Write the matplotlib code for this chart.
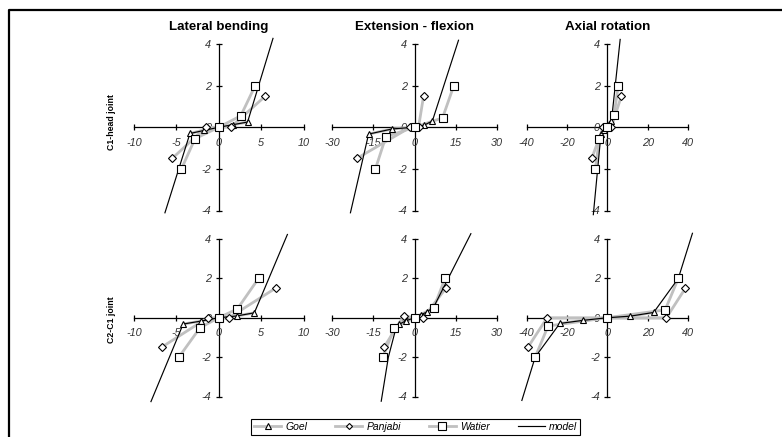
import matplotlib
matplotlib.use('Agg')
import matplotlib.pyplot as plt
from matplotlib.lines import Line2D

plt.rcParams['font.family'] = ['Liberation Sans', 'DejaVu Sans']
plt.rcParams['axes.unicode_minus'] = False

W, H = 782, 437

titles = ['Lateral bending', 'Extension - flexion', 'Axial rotation']
row_labels = ['C1-head joint', 'C2-C1 joint']
series_names = ['Goel', 'Panjabi', 'Watier', 'model']
x_ranges = [10, 30, 40]
x_ticks = [[-10, -5, 0, 5, 10], [-30, -15, 0, 15, 30], [-40, -20, 0, 20, 40]]
y_ticks = [-4, -2, 0, 2, 4]

# panel order: C1-head (lat, ext, axial), C2-C1 (lat, ext, axial)
goel_x = [[-3.4, -1.7, 0, 1.7, 3.4], [-16.7, -8.1, 0, 3.5, 6.5], [-3.1, -1.5, 0, 1.0, 2.1],
          [-4.2, -2.1, 0, 2.1, 4.2], [-5.6, -3.2, 0, 2.3, 4.6], [-23.5, -11.8, 0, 11.3, 23]]
goel_y = [[-0.3, -0.13, 0, 0.12, 0.25], [-0.33, -0.08, 0, 0.1, 0.3], [-0.32, -0.15, 0, 0.15, 0.32],
          [-0.32, -0.17, 0, 0.09, 0.25], [-0.33, -0.16, 0, 0.12, 0.29], [-0.29, -0.13, 0, 0.08, 0.27]]
panjabi_x = [[-5.5, -1.5, 0, 1.5, 5.5], [-21, -1.5, 0, 1.5, 3.3], [-7.7, -2, 0, 2, 7],
             [-6.75, -1.3, 0, 1.2, 6.7], [-11.1, -3.9, 0, 3.2, 11.4], [-39.3, -29.8, 0, 29.3, 38.7]]
panjabi_y = [[-1.5, 0, 0, 0.03, 1.5], [-1.5, 0, 0, 0.03, 1.5], [-1.5, 0, 0, 0, 1.5],
             [-1.5, 0, 0, 0, 1.5], [-1.5, 0.1, 0, 0, 1.5], [-1.5, 0, 0, 0, 1.5]]
watier_x = [[-4.4, -2.8, 0, 2.6, 4.3], [-14.2, -10.4, 0, 10.2, 14.3], [-5.9, -3.9, 0, 3.4, 5.4],
            [-4.7, -2.2, 0, 2.2, 4.7], [-11.5, -7.3, 0, 7, 11.1], [-35.7, -29.3, 0, 28.7, 35.2]]
watier_y = [[-2, -0.55, 0, 0.55, 2], [-2, -0.45, 0, 0.45, 2], [-2, -0.55, 0, 0.58, 2],
            [-2, -0.5, 0, 0.45, 2], [-2, -0.5, 0, 0.5, 2], [-2, -0.42, 0, 0.4, 2]]
model_x = [[-6.35, -3.4, 0, 3.4, 6.4],
           [-23.3, -16.7, -8.1, 0, 3.5, 6.5, 16],
           [-6.9, -3.1, 0, 2.1, 6.4],
           [-8, -4.2, -2.1, 0, 2.1, 4.2, 8.1],
           [-12.1, -9.5, -6.5, -3.2, 0, 4.6, 7, 20.5],
           [-42.3, -35.7, -23.5, -11.8, 0, 11.3, 23, 35.2, 42.2]]
model_y = [[-4.11, -0.3, 0, 0.25, 4.27],
           [-4.11, -0.33, -0.08, 0, 0.1, 0.3, 4.18],
           [-4.2, -0.32, 0, 0.32, 4.22],
           [-4.26, -0.32, -0.17, 0, 0.09, 0.25, 4.23],
           [-4.24, -2.0, -0.4, -0.16, 0, 0.3, 0.55, 4.27],
           [-4.2, -2, -0.29, -0.13, 0, 0.08, 0.27, 2, 4.29]]

# pixel layout: column x-extent of axis ranges, row y-extent of +/-4
col_px = [(134, 303.5), (332, 497), (526.5, 688)]
row_px = [(44, 210.5), (239, 396.5)]

fig = plt.figure(figsize=(W / 100, H / 100), dpi=100)

GRAY = '#c0c0c0'
TXT = '#333333'
markers = ['^', 'D', 's']
msizes = [4.8, 3.6, 6.0]
XPAD, YPAD = 1.1, 4.5

for r in range(2):
    for c in range(3):
        i = r * 3 + c
        X = x_ranges[c]
        pl, pr = col_px[c]
        pt, pb = row_px[r]
        w = (pr - pl) * XPAD
        cx = (pl + pr) / 2
        ppu = (pb - pt) / 8
        h = ppu * 2 * YPAD
        cy = (pt + pb) / 2
        ax = fig.add_axes([(cx - w / 2) / W, 1 - (cy + h / 2) / H, w / W, h / H])
        ax.set_xlim(-X * XPAD, X * XPAD)
        ax.set_ylim(-YPAD, YPAD)
        ax.patch.set_alpha(0)
        for s in ['top', 'right']:
            ax.spines[s].set_visible(False)
        ax.spines['left'].set_position('zero')
        ax.spines['bottom'].set_position('zero')
        ax.spines['left'].set_bounds(-4, 4)
        ax.spines['bottom'].set_bounds(-X, X)
        for s in ['left', 'bottom']:
            ax.spines[s].set_linewidth(0.9)
            ax.spines[s].set_zorder(1)
        ax.set_xticks(x_ticks[c])
        ax.set_yticks(y_ticks)
        ax.tick_params(direction='inout', length=5, width=0.9, labelsize=7.8,
                       labelcolor=TXT)
        ax.tick_params(axis='x', pad=5)
        ax.tick_params(axis='y', pad=3)
        for lab in ax.get_xticklabels() + ax.get_yticklabels():
            lab.set_fontstyle('italic')

        sx = [goel_x[i], panjabi_x[i], watier_x[i]]
        sy = [goel_y[i], panjabi_y[i], watier_y[i]]
        for k in range(3):
            ax.plot(sx[k], sy[k], color=GRAY, lw=2.0, zorder=2, solid_capstyle='butt')
        ax.plot(model_x[i], model_y[i], color='black', lw=0.85, zorder=3)
        for k in range(3):
            ax.plot(sx[k], sy[k], ls='none', marker=markers[k], ms=msizes[k],
                    mfc='white', mec='black', mew=0.8, zorder=4)

        if r == 0:
            fig.text(cx / W, 1 - 27 / H, titles[c], ha='center', va='center',
                     fontsize=9.6, fontweight='bold')
    fig.text(112 / W, 1 - [122, 320][r] / H, row_labels[r], rotation=90,
             ha='center', va='center', fontsize=6.3, fontweight='bold')

handles = [Line2D([], [], color=GRAY, lw=2.0, marker=markers[k], ms=msizes[k] * 0.85,
                  mfc='white', mec='black', mew=0.8) for k in range(3)]
handles.append(Line2D([], [], color='black', lw=0.85))
leg = fig.legend(handles, series_names, loc='lower left',
                 bbox_to_anchor=(251 / W, 1 - 435 / H, 329 / W, 21 / H),
                 mode='expand', ncol=4, fancybox=False, framealpha=1,
                 edgecolor='black', borderaxespad=0, handlelength=2.6,
                 handletextpad=0.4, borderpad=0.3,
                 prop={'size': 7.5, 'style': 'italic'})
leg.get_frame().set_linewidth(0.8)

# outer frame (top and left edges)
fig.add_artist(Line2D([9 / W, 9 / W, 1], [0, 1 - 10 / H, 1 - 10 / H],
                      color='black', lw=1.6, transform=fig.transFigure))

fig.savefig('out.png', dpi=100)
